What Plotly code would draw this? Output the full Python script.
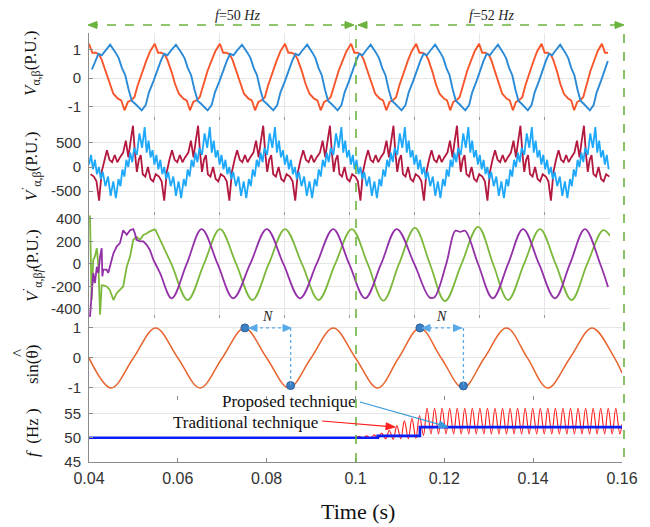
import math
import plotly.graph_objects as go

# ---------------- data ----------------
# panel 1: V alpha,beta -- one cycle of each wave (phase 0 = peak), and the peak times
red1_peaks = [0.0, 0.0202, 0.0402, 0.0602, 0.0805, 0.1005, 0.1198, 0.1390, 0.1575, 0.1765]
red1_phase = [0, .05, .10, .15, .19, .26, .31, .37, .44, .49, .54, .59, .64, .69, .74, .81, .87, .93, 1.0]
red1_shape = [1.2, .89, .89, .83, .66, .2, -.2, -.55, -.72, -.78, -1.13, -.84, -.78, -.67, -.26, .25, .6, .94, 1.2]
blue1_peaks = [-0.0135, 0.0065, 0.0267, 0.047, 0.067, 0.0865, 0.1063, 0.1256, 0.1447, 0.1637]
blue1_phase = [0, .08, .13, .18, .23, .28, .33, .38, .43, .48, .54, .59, .66, .72, .77, .82, .87, .92, 1.0]
blue1_shape = [1.17, .9, .7, .35, .1, -.4, -.8, -.9, -1.0, -1.13, -.95, -.5, -.1, .3, .6, .85, .8, .95, 1.17]

# panel 2: V' alpha,beta -- one cycle each (phase 0 = big positive spike)
red2_spikes = [-0.0065, 0.0135, 0.0335, 0.0535, 0.074, 0.0935, 0.113, 0.1325, 0.152, 0.1715]
red2_phase = [0, .03, .06, .09, .12, .15, .19, .23, .27, .31, .35, .40, .44, .48, .52, .56,
              .60, .64, .68, .72, .76, .80, .85, .89, .93, .96, 1.0]
red2_shape = [860, 300, -100, 150, 250, -150, -200, 0, -250, -300, -150, -200, -300, -700, -100, 150,
              350, 150, 100, 250, 100, 200, 300, 550, 200, 500, 860]
blue2_spikes = [-0.003, 0.0171, 0.0371, 0.0571, 0.0775, 0.097, 0.1165, 0.136, 0.1555, 0.175]
blue2_phase = [0, .03, .06, .09, .12, .15, .18, .21, .24, .27, .30, .33, .36, .40, .44, .48,
               .52, .56, .60, .63, .66, .69, .72, .75, .78, .81, .84, .88, .92, .96, 1.0]
blue2_shape = [830, 300, 550, 200, 350, 50, 250, -50, 150, -150, 0, -250, -100, -400, -200, -600,
               -300, -650, -250, -400, -50, -200, 150, 0, 300, 100, 400, 250, 700, 400, 830]

# panel 3: V' alpha,beta f -- start-up transient, then the settled waves
green3_tr_t = [0.0003, 0.0008, 0.0013, 0.0018, 0.0024, 0.0029, 0.0034, 0.0039, 0.0044, 0.0054, 0.0064,
               0.0075, 0.0085, 0.0095, 0.0105, 0.0116, 0.0126, 0.0136, 0.0146, 0.0157, 0.0167, 0.0177,
               0.0187, 0.0203]
green3_tr_v = [430, -320, 35, 65, 140, -25, -450, -190, -190, -200, -230, -320, -260, -230, -200, -25,
               65, 215, 240, 215, 258, 270, 290, 310]
green3_t = [0.0203, 0.0253, 0.0303, 0.0353, 0.0402, 0.0452, 0.0502, 0.0552, 0.0602, 0.0654, 0.0705,
            0.0756, 0.0807, 0.0856, 0.0904, 0.0952, 0.1001, 0.1047, 0.1093, 0.1144, 0.1195, 0.1241,
            0.1287, 0.1336, 0.1385, 0.1433, 0.1482, 0.1530, 0.1579, 0.1600]
green3_v = [310, 0, -320, 0, 310, 0, -320, 0, 310, 0, -320, 0, 310, 0, -325, 0, 320, 0, -330, 0, 330, 0,
            -320, 0, 310, 0, -320, 0, 300, 250]
purple3_tr_t = [0.0003, 0.0008, 0.0013, 0.0018, 0.0024, 0.0029, 0.0034, 0.0039, 0.0041, 0.0044, 0.0054,
                0.0059, 0.0064, 0.0075, 0.0085, 0.0095, 0.0105, 0.0110, 0.0116, 0.0126, 0.0136, 0.0141,
                0.0146, 0.0157, 0.0167, 0.0177, 0.0187, 0.0198]
purple3_tr_v = [-470, -290, -80, -170, -25, -80, 65, 140, -110, -50, -50, -80, -25, 95, 155, 185, 300,
                285, 260, 300, 310, 270, 215, 200, 200, 170, 125, 35]
purple3_t = [0.0198, 0.0218, 0.0254, 0.0300, 0.0346, 0.0395, 0.0443, 0.0495, 0.0546, 0.0597, 0.0648,
             0.0699, 0.0750, 0.0799, 0.0848, 0.0897, 0.0945, 0.0999, 0.1045, 0.1060, 0.1097, 0.1125,
             0.1140, 0.1155, 0.1195, 0.1240, 0.1287, 0.1333, 0.1382, 0.1431, 0.1477, 0.1523, 0.1570,
             0.1594]
purple3_v = [35, -80, -305, 0, 310, 0, -305, 0, 310, 0, -305, 0, 310, 0, -305, 0, 310, 0, -295, -298, 0,
             295, 285, 295, 0, -305, 0, 310, 0, -305, 0, 310, 0, -205]

# panel 4: sin(theta hat)
sin_t = [0.04, 0.045, 0.05, 0.055, 0.06, 0.065, 0.07, 0.075, 0.08, 0.085, 0.09, 0.095, 0.1, 0.105,
         0.1097, 0.1145, 0.1193, 0.1242, 0.129, 0.134, 0.1387, 0.1433, 0.1483, 0.1533, 0.1583, 0.16]
sin_v = [0, -1, 0, 1, 0, -1, 0, 1, 0, -1, 0, 1, 0, -1, 0, 1, 0, -1, 0, 1, 0, -1, 0, 1, 0, -0.5]
mark_t = [0.0751, 0.0854, 0.1145, 0.1243]
mark_v = [1.0, -0.92, 1.0, -0.93]

# panel 5: frequency estimates
prop_t = [0.04, 0.105, 0.1145, 0.16]
prop_v = [50.0, 50.4, 52.2, 52.2]
trad_tr_t = [0.1000, 0.1008, 0.1017, 0.1025, 0.1034, 0.1042, 0.1051, 0.1059, 0.1068, 0.1076, 0.1085,
             0.1093, 0.1102, 0.1110, 0.1119, 0.1127, 0.1136, 0.1144, 0.1153]
trad_tr_v = [50.0, 50.3, 49.9, 50.4, 49.9, 50.6, 49.8, 51.0, 49.8, 51.5, 49.7, 52.5, 49.8, 53.5, 49.8,
             54.0, 49.9, 54.6, 50.5]
trad_peak_t = [0.1161, 0.1178, 0.1195, 0.1212, 0.1229, 0.1246, 0.1263, 0.1280, 0.1297, 0.1314, 0.1331,
               0.1348, 0.1365, 0.1382, 0.1399, 0.1416, 0.1433, 0.1450, 0.1467, 0.1484, 0.1501, 0.1518,
               0.1535, 0.1552, 0.1569, 0.1586]
trad_trough_t = [0.1170, 0.1187, 0.1204, 0.1221, 0.1238, 0.1255, 0.1272, 0.1289, 0.1306, 0.1323, 0.1340,
                 0.1357, 0.1374, 0.1391, 0.1408, 0.1425, 0.1442, 0.1459, 0.1476, 0.1493, 0.1510, 0.1527,
                 0.1544, 0.1561, 0.1578, 0.1595]
trad_peak_v = 56.1
trad_trough_v = 50.8

x_ticks = [0.04, 0.06, 0.08, 0.1, 0.12, 0.14, 0.16]
x_ticktext = ["0.04", "0.06", "0.08", "0.1", "0.12", "0.14", "0.16"]


def tile(starts, phase, shape, t_end=0.16):
    # lay the read cycle between each pair of read cycle marks
    ts, vs = [], []
    for a, b in zip(starts[:-1], starts[1:]):
        for p, v in zip(phase[:-1], shape[:-1]):
            t = a + p * (b - a)
            if 0 <= t <= t_end:
                ts.append(t)
                vs.append(v)
    return ts, vs


# page pixel helpers (plot area on the page: x 89..622, y 25..462;
# the page body adds an 8px margin, so the figure itself is 642x519)
def px(x):
    return (x - 89) / 533.0


def py(y):
    return (462 - y) / 437.0


def head(xt, yt, xf, yf, color, L=9, W=7):
    # filled arrow head with its tip at (xt, yt), pointing away from (xf, yf); page pixels
    dx, dy = xt - xf, yt - yf
    n = math.hypot(dx, dy)
    ux, uy = dx / n, dy / n
    bx, by = xt - ux * L, yt - uy * L
    nx, ny = -uy * W / 2, ux * W / 2
    path = "M {} {} L {} {} L {} {} Z".format(px(xt), py(yt), px(bx + nx), py(by + ny), px(bx - nx), py(by - ny))
    return dict(type="path", xref="paper", yref="paper", path=path, fillcolor=color,
                line=dict(color=color, width=1))


def seg(x0, y0, x1, y1, color, width, dash="solid"):
    return dict(type="line", xref="paper", yref="paper", x0=px(x0), y0=py(y0), x1=px(x1), y1=py(y1),
                line=dict(color=color, width=width, dash=dash))


fig = go.Figure()

t, v = tile(red1_peaks, red1_phase, red1_shape)
fig.add_trace(go.Scatter(x=t, y=v, mode="lines", line=dict(color="#f7562c", width=1.9), xaxis="x", yaxis="y"))
t, v = tile(blue1_peaks, blue1_phase, blue1_shape)
fig.add_trace(go.Scatter(x=t, y=v, mode="lines", line=dict(color="#2a8ad6", width=1.9), xaxis="x", yaxis="y"))

t, v = tile(red2_spikes, red2_phase, red2_shape)
fig.add_trace(go.Scatter(x=t, y=v, mode="lines", line=dict(color="#b3183f", width=1.8), xaxis="x2", yaxis="y2"))
t, v = tile(blue2_spikes, blue2_phase, blue2_shape)
fig.add_trace(go.Scatter(x=t, y=v, mode="lines", line=dict(color="#1ea8fa", width=1.8), xaxis="x2", yaxis="y2"))

fig.add_trace(go.Scatter(x=green3_tr_t, y=green3_tr_v, mode="lines", line=dict(color="#7cb83c", width=1.8),
                         xaxis="x3", yaxis="y3"))
fig.add_trace(go.Scatter(x=green3_t, y=green3_v, mode="lines", line=dict(color="#7cb83c", width=1.8, shape="spline"),
                         xaxis="x3", yaxis="y3"))
fig.add_trace(go.Scatter(x=purple3_tr_t, y=purple3_tr_v, mode="lines", line=dict(color="#9330a8", width=1.8),
                         xaxis="x3", yaxis="y3"))
fig.add_trace(go.Scatter(x=purple3_t, y=purple3_v, mode="lines", line=dict(color="#9330a8", width=1.8, shape="spline"),
                         xaxis="x3", yaxis="y3"))

fig.add_trace(go.Scatter(x=sin_t, y=sin_v, mode="lines", line=dict(color="#e8642e", width=1.5, shape="spline"),
                         xaxis="x4", yaxis="y4"))
fig.add_trace(go.Scatter(x=mark_t, y=mark_v, mode="markers",
                         marker=dict(color="#3b7fc4", size=8, line=dict(color="#2a5f99", width=1)),
                         xaxis="x4", yaxis="y4"))

red_pts = sorted([(a, trad_peak_v) for a in trad_peak_t] + [(a, trad_trough_v) for a in trad_trough_t])
trad_t = trad_tr_t + [p[0] for p in red_pts] + [0.16]
trad_v = trad_tr_v + [p[1] for p in red_pts] + [52.8]
fig.add_trace(go.Scatter(x=trad_t, y=trad_v, mode="lines", line=dict(color="#ff1a1a", width=1.1, shape="spline"),
                         xaxis="x5", yaxis="y5"))
fig.add_trace(go.Scatter(x=prop_t, y=prop_v, mode="lines", line=dict(color="#0a1ef5", width=2.6, shape="hv"),
                         xaxis="x5", yaxis="y5"))

tickfont = dict(family="Arial", size=15, color="#333333")
grid = "#e6e6e6"
axline = "#8c8c8c"

top_x = dict(domain=[0, px(610)], range=[0, 0.16], dtick=0.02, tick0=0, showticklabels=False,
             showgrid=True, gridcolor=grid, zeroline=False, ticks="inside", ticklen=3, tickcolor="#999999")
bot_x = dict(domain=[0, 1], range=[0.04, 0.16], zeroline=False, showgrid=False,
             ticks="inside", ticklen=4, tickcolor=axline, tickvals=x_ticks)


def yax(dom, rng, vals, text):
    return dict(domain=dom, range=rng, tickvals=vals, ticktext=text, showgrid=True, gridcolor=grid,
                zeroline=False, showline=True, linecolor=axline, linewidth=1, ticks="inside", ticklen=4,
                tickcolor=axline, tickfont=tickfont, ticklabelstandoff=4)


fig.update_layout(
    width=642, height=519,
    margin=dict(l=81, r=28, t=17, b=65),
    paper_bgcolor="white", plot_bgcolor="white",
    showlegend=False,
    xaxis=dict(top_x, anchor="y"),
    xaxis2=dict(top_x, anchor="y2"),
    xaxis3=dict(top_x, anchor="y3"),
    xaxis4=dict(bot_x, anchor="y4", showticklabels=False),
    xaxis5=dict(bot_x, anchor="y5", showline=True, linecolor=axline, ticktext=x_ticktext,
                tickfont=dict(family="Arial", size=16, color="#333333"), ticklabelstandoff=2,
                ticklabeloverflow="allow"),
    yaxis=yax([py(120), py(33)], [-1.47, 1.58], [-1, 0, 1], ["-1", "0", "1"]),
    yaxis2=yax([py(215), py(120)], [-1000, 979], [-500, 0, 500], ["-500", "0", "500"]),
    yaxis3=yax([py(318), py(215)], [-480, 435], [-400, -200, 0, 200, 400],
               ["-400", "-200", "0", "200", "400"]),
    yaxis4=yax([py(400), py(318)], [-1.4, 1.33], [-1, 0, 1], ["-1", "0", "1"]),
    yaxis5=yax([0, py(400)], [45, 57.8], [45, 50, 55], ["45", "50", "55"]),
)

green = "#6db33f"
nblue = "#5aaae8"
shapes = [
    # frequency-change markers
    seg(356, 462, 356, 25, green, 1.6, "dash"),
    seg(624, 457, 624, 25, green, 1.6, "dash"),
    seg(89, 25, 353, 25, green, 1.6, "dash"),
    seg(358, 25, 622, 25, green, 1.6, "dash"),
    head(88, 25, 100, 25, green), head(354, 25, 340, 25, green),
    head(358, 25, 372, 25, green), head(624, 25, 610, 25, green),
    # N guides (dotted) in panel 4
    dict(type="line", xref="x4", yref="y4", x0=0.0758, x1=0.0854, y0=1, y1=1,
         line=dict(color=nblue, width=1.3, dash="dot")),
    dict(type="line", xref="x4", yref="y4", x0=0.0854, x1=0.0854, y0=1, y1=-0.92,
         line=dict(color=nblue, width=1.3, dash="dot")),
    dict(type="line", xref="x4", yref="y4", x0=0.1152, x1=0.1243, y0=1, y1=1,
         line=dict(color=nblue, width=1.3, dash="dot")),
    dict(type="line", xref="x4", yref="y4", x0=0.1243, x1=0.1243, y0=1, y1=-0.93,
         line=dict(color=nblue, width=1.3, dash="dot")),
    head(249, 328, 262, 328, nblue, 8, 7), head(291, 328, 278, 328, nblue, 8, 7),
    head(422, 328, 435, 328, nblue, 8, 7), head(461.5, 328, 448, 328, nblue, 8, 7),
    # technique pointers
    seg(360, 402, 440, 424.7, "#3a9ad9", 1.2), head(448, 427, 360, 402, "#3a9ad9", 9, 7),
    seg(322, 421, 387, 426.3, "#ff2020", 1.2), head(395, 427, 322, 421, "#ff2020", 9, 7),
]
fig.update_layout(shapes=shapes)

serif = "Liberation Serif"
ann = []
for label, xc in [("<i>f</i>=50 <i>Hz</i>", 237), ("<i>f</i>=52 <i>Hz</i>", 491)]:
    ann.append(dict(xref="paper", yref="paper", x=px(xc), y=py(16), xanchor="center", yanchor="middle",
                    text=label, showarrow=False, font=dict(family=serif, size=14, color="#222")))

for xa, xb in [(0.0751, 0.0854), (0.1145, 0.1243)]:
    ann.append(dict(xref="x4", yref="y4", x=(xa + xb) / 2, y=1.0, yshift=11, xanchor="center",
                    yanchor="middle", text="<i>N</i>", showarrow=False,
                    font=dict(family=serif, size=14, color="#222")))

ann.append(dict(xref="paper", yref="paper", x=px(358), y=py(401), xanchor="right", yanchor="middle",
                text="Proposed technique", showarrow=False, font=dict(family=serif, size=17, color="#111")))
ann.append(dict(xref="paper", yref="paper", x=px(320), y=py(422), xanchor="right", yanchor="middle",
                text="Traditional technique", showarrow=False, font=dict(family=serif, size=17, color="#111")))

# y labels
lab_font = dict(family=serif, size=17, color="#111")
for text, ycen in [("<i>V</i><sub>α,β</sub>(P.U.)", 64),
                   ("<i>V</i><sup>˙</sup><sub>α,β</sub>(P.U.)", 167),
                   ("<i>V</i><sup>˙</sup><sub>α,β<i>f</i></sub>(P.U.)", 266),
                   ("sin(θ)", 365),
                   ("<i>f</i>  (Hz )", 433)]:
    ann.append(dict(xref="paper", yref="paper", x=px(32), y=py(ycen), xanchor="center", yanchor="middle",
                    text=text, textangle=-90, showarrow=False, font=lab_font))
ann.append(dict(xref="paper", yref="paper", x=px(18), y=py(353), xanchor="center", yanchor="middle",
                text="^", textangle=-90, showarrow=False, font=dict(family=serif, size=17, color="#111")))

ann.append(dict(xref="paper", yref="paper", x=px(358), y=py(511), xanchor="center", yanchor="middle",
                text="Time (s)", showarrow=False, font=dict(family=serif, size=22, color="#111")))
fig.update_layout(annotations=ann)

fig.write_html("out.html")
